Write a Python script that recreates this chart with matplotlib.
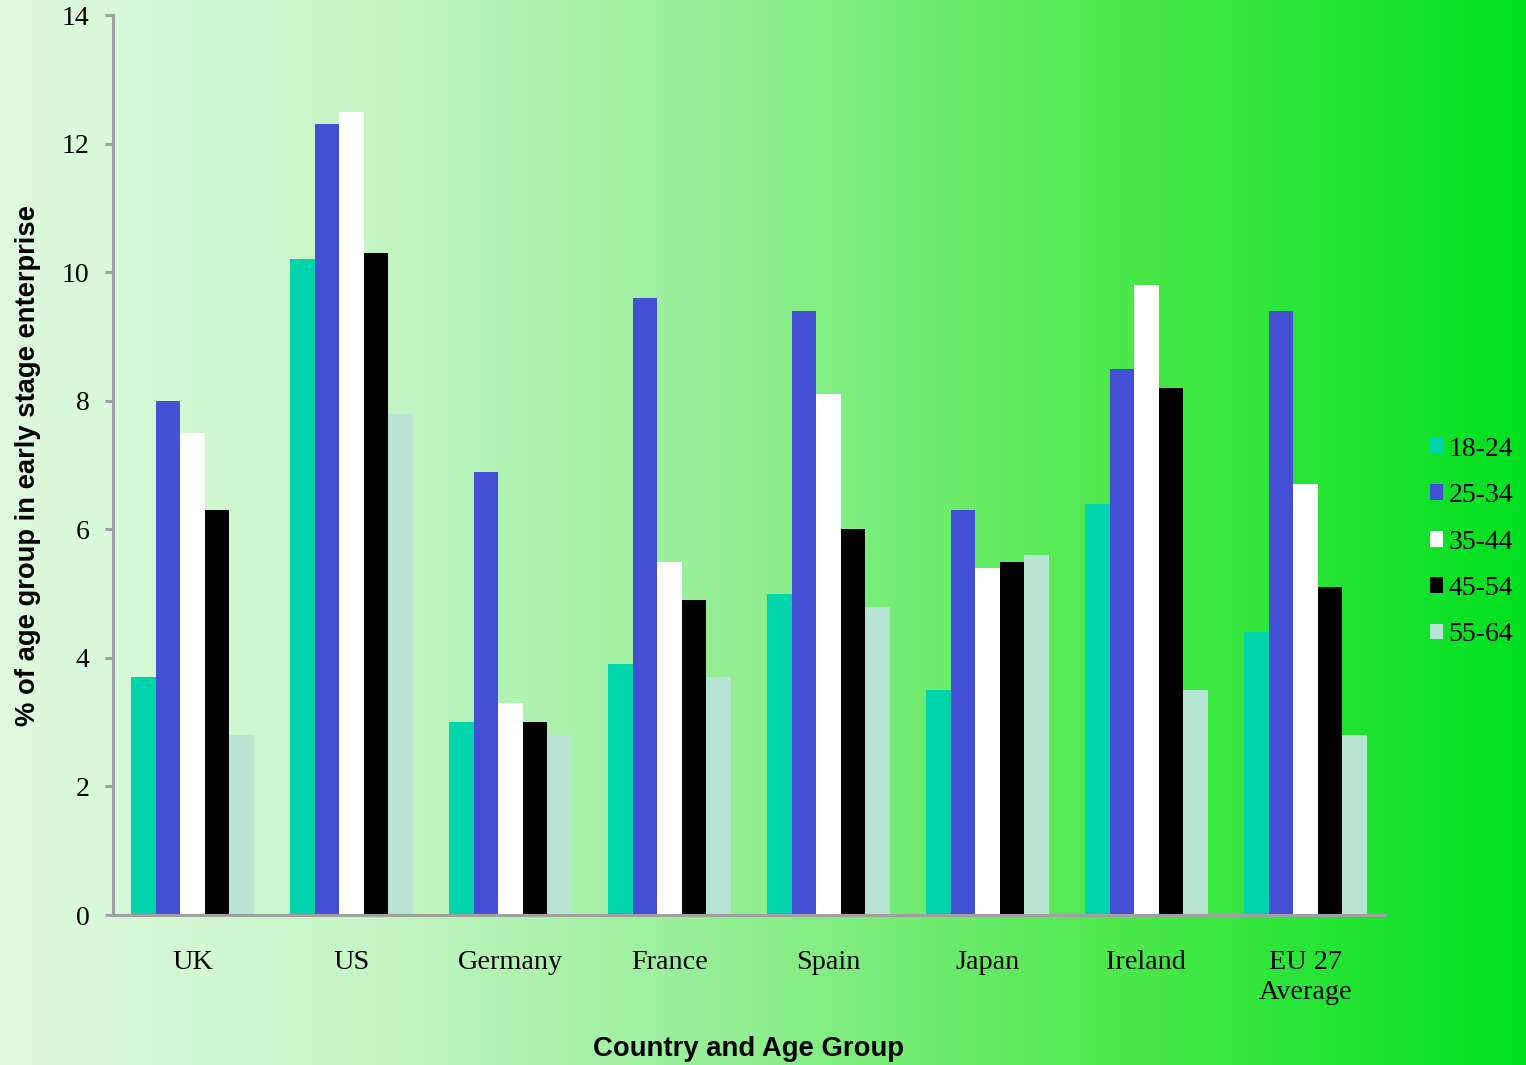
import numpy as np
import matplotlib.pyplot as plt
from matplotlib.patches import Patch

# datos
countries = ['UK', 'US', 'Germany', 'France', 'Spain', 'Japan', 'Ireland', 'EU 27\nAverage']
groups = ['18-24', '25-34', '35-44', '45-54', '55-64']
age_18_24 = [3.7, 10.2, 3.0, 3.9, 5.0, 3.5, 6.4, 4.4]
age_25_34 = [8.0, 12.3, 6.9, 9.6, 9.4, 6.3, 8.5, 9.4]
age_35_44 = [7.5, 12.5, 3.3, 5.5, 8.1, 5.4, 9.8, 6.7]
age_45_54 = [6.3, 10.3, 3.0, 4.9, 6.0, 5.5, 8.2, 5.1]
age_55_64 = [2.8, 7.8, 2.8, 3.7, 4.8, 5.6, 3.5, 2.8]
series = [age_18_24, age_25_34, age_35_44, age_45_54, age_55_64]
colors = ['#00d4aa', '#4450d4', '#ffffff', '#000000', '#b8e4d4']

fig = plt.figure(figsize=(15.26, 10.65), dpi=100)

# fondo degradado
bg = fig.add_axes([0, 0, 1, 1], zorder=0)
cmap_bg = plt.matplotlib.colors.LinearSegmentedColormap.from_list(
    'bg', ['#e0fae0', '#c4f5c4', '#8eee8e', '#48e848', '#00e020'])
bg.imshow(np.linspace(0, 1, 512).reshape(1, -1), aspect='auto', cmap=cmap_bg,
          extent=[0, 1, 0, 1])
bg.axis('off')

ax = fig.add_axes([0.074, 0.1408, 0.8335, 0.845], zorder=1)
ax.patch.set_alpha(0)

x = np.arange(len(countries))
w = 0.154
for i, (vals, c) in enumerate(zip(series, colors)):
    ax.bar(x + (i - 2) * w, vals, width=w, color=c, label=groups[i], zorder=2)

ax.set_xlim(-0.5, len(countries) - 0.5)
ax.set_ylim(0, 14)
ax.set_yticks(range(0, 15, 2))
ax.set_xticks(x)
ax.set_xticklabels(countries, fontfamily='Liberation Serif', fontsize=20.3, linespacing=1.3)

for s in ['top', 'right']:
    ax.spines[s].set_visible(False)
for s in ['left', 'bottom']:
    ax.spines[s].set_color('#a0a0a0')
    ax.spines[s].set_linewidth(2.2)

ax.tick_params(axis='x', length=0, pad=25)
ax.tick_params(axis='y', length=6, width=2.2, color='#a0a0a0', pad=11)
for lab in ax.get_yticklabels():
    lab.set_fontfamily('Liberation Serif')
    lab.set_fontsize(20)

ax.set_xlabel('Country and Age Group', fontfamily='Liberation Sans',
              fontsize=19.8, fontweight='bold', labelpad=22)
ax.set_ylabel('% of age group in early stage enterprise', fontfamily='Liberation Sans',
              fontsize=19.7, fontweight='bold', labelpad=15)

handles = [Patch(facecolor=c, edgecolor='none') for c in colors]
fig.legend(handles, groups, loc='center left', bbox_to_anchor=(0.9295, 0.491),
           frameon=False, prop={'family': 'Liberation Serif', 'size': 20},
           handlelength=0.5, handleheight=0.5, handletextpad=0.18, labelspacing=0.77,
           borderaxespad=0)

fig.savefig('out.png', dpi=100)
